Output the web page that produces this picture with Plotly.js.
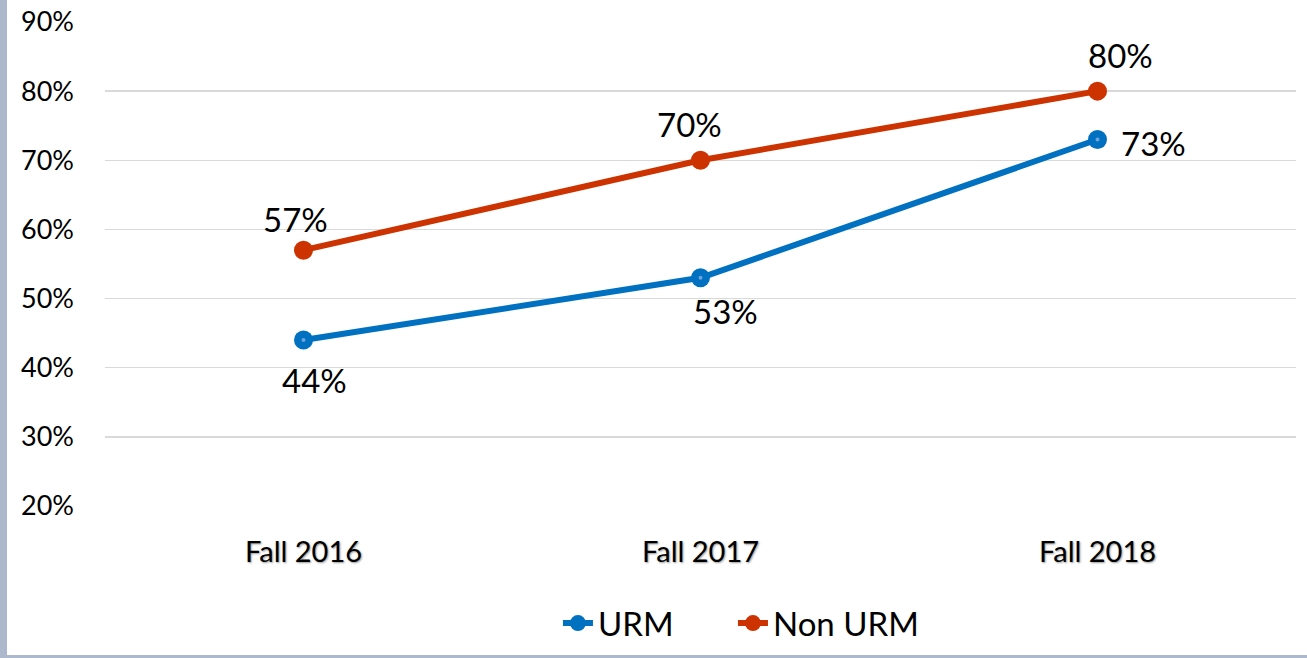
<!DOCTYPE html>
<html><head><meta charset="utf-8">
<script src="https://cdn.plot.ly/plotly-3.0.1.min.js"></script>
<style>
html,body{margin:0;padding:0;background:#fff;}
#wrap{position:relative;width:1307px;height:658px;overflow:hidden;}
#chart{position:absolute;left:0;top:0;width:1307px;height:658px;}
#lb{position:absolute;left:0;top:0;width:7px;height:658px;background:#adb8cc;}
#bb{position:absolute;left:0;top:655px;width:1307px;height:3px;background:#adb8cc;}
</style></head>
<body><div id="wrap"><div id="chart"></div><div id="lb"></div><div id="bb"></div></div>
<script>
const categories = ["Fall 2016", "Fall 2017", "Fall 2018"];
const urm = [44, 53, 73];
const nonUrm = [57, 70, 80];
const urmLabels = ["44%", "53%", "73%"];
const nonUrmLabels = ["57%", "70%", "80%"];
const yTicks = [20, 30, 40, 50, 60, 70, 80, 90];
const yTickText = ["20%", "30%", "40%", "50%", "60%", "70%", "80%", "90%"];

// label offsets (px) — styling only
const urmShift = [{x: 11, y: -40}, {x: 25, y: -33}, {x: 21, y: -3}];
const nonUrmShift = [{x: -8, y: 31}, {x: -11, y: 36}, {x: 23, y: 36}];

const blue = "#0070c0", red = "#cc3300";
const fontFam = "Lato, 'Open Sans', 'DejaVu Sans', sans-serif";

const traces = [
  {x: categories, y: urm, name: "URM", type: "scatter", mode: "lines+markers", legend: "legend",
   line: {color: blue, width: 6}, marker: {color: blue, size: 19}, cliponaxis: false},
  {x: categories, y: nonUrm, name: "Non URM", type: "scatter", mode: "lines+markers", legend: "legend2",
   line: {color: red, width: 6}, marker: {color: red, size: 19}, cliponaxis: false},
  {x: categories, y: urm, type: "scatter", mode: "markers", showlegend: false,
   marker: {color: "#6fa3d9", size: 4}, hoverinfo: "skip", cliponaxis: false}
];

const annotations = [];
categories.forEach((c, i) => {
  annotations.push({x: c, y: urm[i], xref: "x", yref: "y", text: urmLabels[i], showarrow: false,
    xanchor: i === 2 ? "left" : "center", yanchor: "middle",
    xshift: urmShift[i].x, yshift: urmShift[i].y,
    font: {size: 33, family: fontFam, color: "#000"}});
  annotations.push({x: c, y: nonUrm[i], xref: "x", yref: "y", text: nonUrmLabels[i], showarrow: false,
    xanchor: "center", yanchor: "middle", xshift: nonUrmShift[i].x, yshift: nonUrmShift[i].y,
    font: {size: 33, family: fontFam, color: "#000"}});
});

const legendBase = {orientation: "h", xref: "container", yref: "container", xanchor: "left",
  y: 0.053, yanchor: "middle", font: {size: 33, family: fontFam}, bgcolor: "rgba(0,0,0,0)"};

const layout = {
  width: 1307, height: 658,
  margin: {l: 105, r: 11, t: 22, b: 152},
  paper_bgcolor: "#fff", plot_bgcolor: "#fff",
  font: {family: fontFam, color: "#000"},
  showlegend: true,
  annotations: annotations,
  legend: Object.assign({}, legendBase, {x: 0.4269}),
  legend2: Object.assign({}, legendBase, {x: 0.5608}),
  xaxis: {type: "category", range: [-0.5, 2.5], showgrid: false, zeroline: false, automargin: false,
          showline: false, ticks: "", ticklabelstandoff: 26,
          tickfont: {size: 29, family: fontFam, shadow: "1px 1px 2px #999"}},
  yaxis: {range: [20, 90], tickvals: yTicks, ticktext: yTickText, showgrid: true, automargin: false,
          gridcolor: "#d9d9d9", gridwidth: 1.5, zeroline: false, showline: false,
          tickfont: {size: 27, family: fontFam}, ticklabelstandoff: 30}
};

Plotly.newPlot("chart", traces, layout, {displayModeBar: false, staticPlot: true});
</script></body></html>
